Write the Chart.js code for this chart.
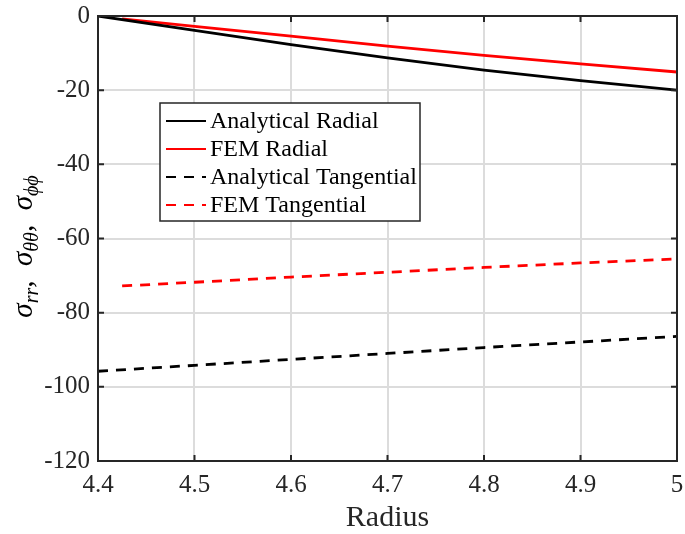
<!DOCTYPE html>
<html>
<head>
<meta charset="utf-8">
<script src="https://cdn.jsdelivr.net/npm/chart.js@4/dist/chart.umd.min.js"></script>
<style>
  html, body { margin: 0; padding: 0; background: #fff; }
  #wrap { width: 685px; height: 534px; }
</style>
</head>
<body>
<div id="wrap"><canvas id="chart"></canvas></div>
<script>
// values
const radiusAnalytical = [4.4, 4.5, 4.6, 4.7, 4.8, 4.9, 5.0];
const analyticalRadial = [0, -3.9, -7.7, -11.3, -14.6, -17.4, -20.0];
const analyticalTangential = [-95.8, -94.2, -92.6, -91.0, -89.4, -87.9, -86.4];

const radiusFem = [4.425, 4.5, 4.6, 4.7, 4.8, 4.9, 5.0];
const femRadial = [-0.8, -2.8, -5.4, -8.1, -10.6, -12.9, -15.1];
const femTangential = [-72.8, -71.8, -70.4, -69.1, -67.8, -66.6, -65.5];

const xTicks = [4.4, 4.5, 4.6, 4.7, 4.8, 4.9, 5.0];
const yTicks = [0, -20, -40, -60, -80, -100, -120];

const serif = "'Liberation Serif', 'DejaVu Serif', serif";
const axisColor = "#262626";

function pts(xs, ys) {
  return xs.map((x, i) => ({ x: x, y: ys[i] }));
}

// MATLAB-style inward ticks plus the box round the axes
const boxPlugin = {
  id: "box",
  afterDraw(chart) {
    const ctx = chart.ctx;
    const a = chart.chartArea;
    const xs = chart.scales.x;
    const ys = chart.scales.y;
    ctx.save();
    ctx.strokeStyle = axisColor;
    ctx.lineWidth = 2;
    xTicks.forEach((t) => {
      const px = xs.getPixelForValue(t);
      ctx.beginPath();
      ctx.moveTo(px, a.bottom); ctx.lineTo(px, a.bottom - 6);
      ctx.moveTo(px, a.top); ctx.lineTo(px, a.top + 6);
      ctx.stroke();
    });
    yTicks.forEach((t) => {
      const py = ys.getPixelForValue(t);
      ctx.beginPath();
      ctx.moveTo(a.left, py); ctx.lineTo(a.left + 6, py);
      ctx.moveTo(a.right, py); ctx.lineTo(a.right - 6, py);
      ctx.stroke();
    });
    ctx.strokeRect(a.left, a.top, a.right - a.left, a.bottom - a.top);

    // y title with subscripts
    ctx.translate(32, (a.top + a.bottom) / 2 + 8);
    ctx.rotate(-Math.PI / 2);
    ctx.fillStyle = "#000";
    ctx.textBaseline = "alphabetic";
    const parts = [
      ["σ", "rr"], [",  ", null], ["σ", "θθ"], [",  ", null], ["σ", "ϕϕ"]
    ];
    let w = 0;
    const main = "italic 29px " + serif;
    const plain = "29px " + serif;
    const sub = "italic 20px " + serif;
    parts.forEach((p) => {
      ctx.font = p[1] === null ? plain : main;
      w += ctx.measureText(p[0]).width;
      if (p[1]) { ctx.font = sub; w += ctx.measureText(p[1]).width; }
    });
    let x = -w / 2;
    parts.forEach((p) => {
      ctx.font = p[1] === null ? plain : main;
      ctx.fillText(p[0], x, 0);
      x += ctx.measureText(p[0]).width;
      if (p[1]) {
        ctx.font = sub;
        ctx.fillText(p[1], x, 6);
        x += ctx.measureText(p[1]).width;
      }
    });
    ctx.restore();

    // legend
    const lx = 160, ly = 103, lw = 260, lh = 118;
    ctx.save();
    ctx.fillStyle = "#fff";
    ctx.fillRect(lx, ly, lw, lh);
    ctx.strokeStyle = axisColor;
    ctx.lineWidth = 1.5;
    ctx.strokeRect(lx, ly, lw, lh);
    ctx.font = "24px " + serif;
    ctx.textBaseline = "middle";
    chart.data.datasets.forEach((ds, i) => {
      const yy = ly + 18 + i * 28;
      ctx.strokeStyle = ds.borderColor;
      ctx.lineWidth = 2;
      ctx.setLineDash(ds.borderDash || []);
      ctx.beginPath();
      ctx.moveTo(lx + 6, yy); ctx.lineTo(lx + 46, yy);
      ctx.stroke();
      ctx.setLineDash([]);
      ctx.fillStyle = "#000";
      ctx.fillText(ds.label, lx + 50, yy + 1);
    });
    ctx.restore();
  }
};

new Chart(document.getElementById("chart"), {
  type: "scatter",
  data: {
    datasets: [
      { label: "Analytical Radial", data: pts(radiusAnalytical, analyticalRadial), borderColor: "#000000" },
      { label: "FEM Radial", data: pts(radiusFem, femRadial), borderColor: "#ff0000" },
      { label: "Analytical Tangential", data: pts(radiusAnalytical, analyticalTangential), borderColor: "#000000", borderDash: [10, 8] },
      { label: "FEM Tangential", data: pts(radiusFem, femTangential), borderColor: "#ff0000", borderDash: [10, 8] }
    ].map((d) => Object.assign({ showLine: true, pointRadius: 0, borderWidth: 2.8, fill: false, tension: 0 }, d))
  },
  options: {
    responsive: true,
    maintainAspectRatio: false,
    animation: false,
    layout: { padding: { top: 16, right: 8, left: 0, bottom: 0 } },
    plugins: { legend: { display: false }, tooltip: { enabled: false } },
    scales: {
      x: {
        type: "linear",
        min: 4.4,
        max: 5,
        afterBuildTicks: (s) => { s.ticks = xTicks.map((v) => ({ value: v })); },
        afterFit: (s) => { s.height = 73; s.paddingLeft = 0; s.paddingRight = 0; },
        grid: { color: "#dcdcdc", lineWidth: 2, drawTicks: false },
        border: { display: false },
        ticks: {
          padding: 9,
          maxRotation: 0,
          color: "#262626",
          font: { family: serif, size: 25 },
          callback: (v) => String(Number(v.toFixed(1)))
        },
        title: {
          display: true,
          text: "Radius",
          color: "#262626",
          font: { family: serif, size: 30 },
          padding: { top: 0, bottom: -2 }
        }
      },
      y: {
        min: -120,
        max: 0,
        afterBuildTicks: (s) => { s.ticks = yTicks.map((v) => ({ value: v })); },
        afterFit: (s) => { s.width = 98; s.paddingTop = 0; s.paddingBottom = 0; },
        grid: { color: "#dcdcdc", lineWidth: 2, drawTicks: false },
        border: { display: false },
        ticks: {
          padding: 8,
          color: "#262626",
          font: { family: serif, size: 25 }
        }
      }
    }
  },
  plugins: [boxPlugin]
});
</script>
</body>
</html>
